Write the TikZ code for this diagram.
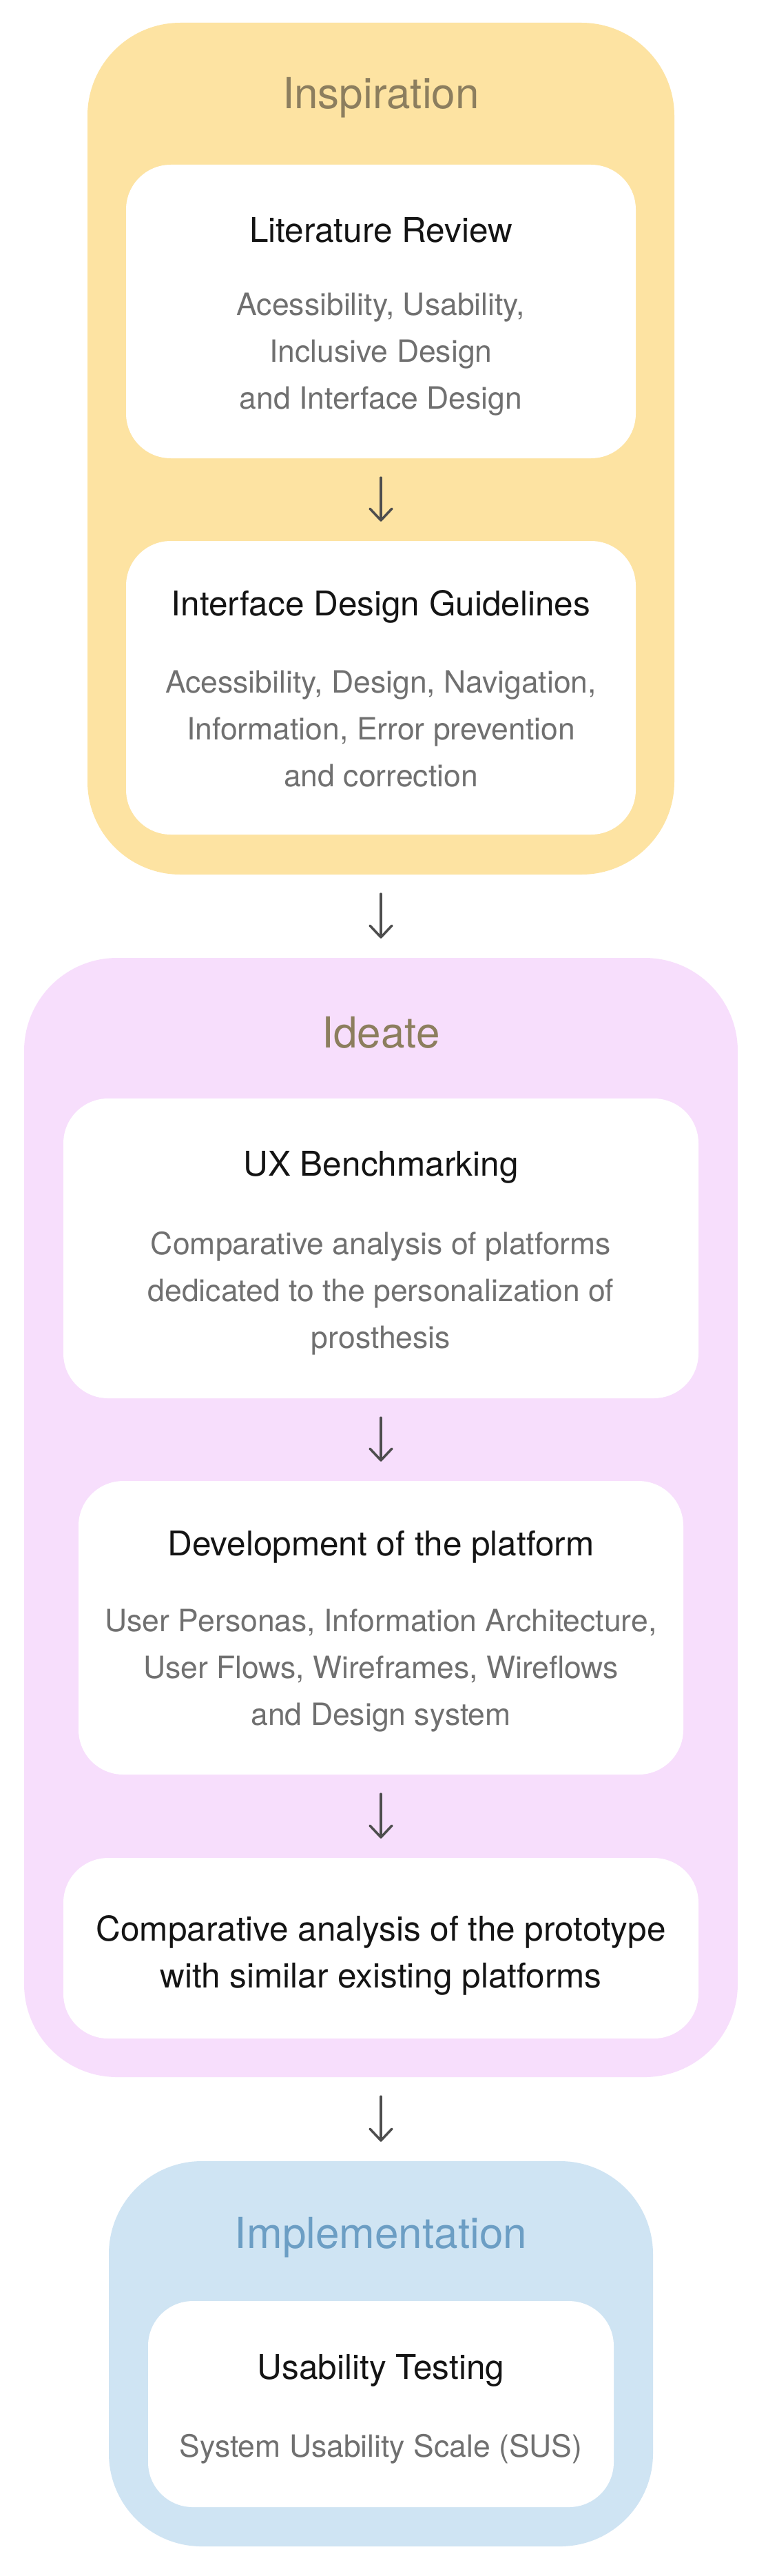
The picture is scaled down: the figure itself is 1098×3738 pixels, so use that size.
\documentclass[tikz,border=0pt]{standalone}
\usepackage{fontspec}
\setmainfont{TeX Gyre Heros}
\usetikzlibrary{arrows.meta}
\definecolor{yellowc}{HTML}{FDE3A2}
\definecolor{pinkc}{HTML}{F7DEFC}
\definecolor{bluec}{HTML}{CFE4F3}
\definecolor{phasebrown}{HTML}{8C7E5E}
\definecolor{phaseblue}{HTML}{6C9EC4}
\definecolor{titleblack}{HTML}{141414}
\definecolor{greytext}{HTML}{707070}
\definecolor{arrowc}{HTML}{4D4D4D}
\begin{document}
\begin{tikzpicture}[x=1pt,y=-1pt,
  panel/.style={rectangle, rounded corners=135pt, inner sep=0pt, draw=none},
  card/.style={rectangle, fill=white, rounded corners=65pt, inner sep=0pt, draw=none},
  phasetitle/.style={font=\fontsize{62}{72}\selectfont, inner sep=0pt},
  cardtitle/.style={font=\fontsize{49.5}{68}\selectfont, text=titleblack, align=center, inner sep=0pt},
  carddesc/.style={font=\fontsize{44.5}{68}\selectfont, text=greytext, align=center, inner sep=0pt},
  flow/.style={draw=arrowc, line width=3.5pt, line cap=round,
    -{Straight Barb[length=17pt,width=32pt,line cap=round,line join=round]},
    shorten <=28pt, shorten >=28pt}]
\useasboundingbox (0,0) rectangle (1098,3738);
\fill[white] (0,0) rectangle (1098,3738);

% Inspiration
\node[panel, fill=yellowc, minimum width=852pt, minimum height=1236pt] (insp) at (553,651) {};
\node[phasetitle, text=phasebrown] (inspt) at (553,142) {Inspiration};
\node[card, minimum width=740pt, minimum height=426pt] (lr) at (553,452) {};
\node[cardtitle] (lrt) at (553,334) {Literature Review};
\node[carddesc] (lrd) at (553,514) {Acessibility, Usability,\\Inclusive Design\\and Interface Design};
\node[card, minimum width=740pt, minimum height=426pt] (idg) at (553,998) {};
\node[cardtitle] (idgt) at (553,880) {Interface Design Guidelines};
\node[carddesc] (idgd) at (553,1058) {Acessibility, Design, Navigation,\\Information, Error prevention\\and correction};

% Ideate
\node[panel, fill=pinkc, minimum width=1036pt, minimum height=1624pt] (idea) at (553,2202) {};
\node[phasetitle, text=phasebrown] (ideat) at (553,1498) {Ideate};
\node[card, minimum width=922pt, minimum height=435pt] (ux) at (553,1811.5) {};
\node[cardtitle] (uxt) at (553,1694) {UX Benchmarking};
\node[carddesc] (uxd) at (553,1877) {Comparative analysis of platforms\\dedicated to the personalization of\\prosthesis};
\node[card, minimum width=878pt, minimum height=426pt] (dev) at (553,2362) {};
\node[cardtitle] (devt) at (553,2245) {Development of the platform};
\node[carddesc] (devd) at (553,2424) {User Personas, Information Architecture,\\User Flows, Wireframes, Wireflows\\and Design system};
\node[card, minimum width=922pt, minimum height=262pt] (comp) at (553,2827) {};
\node[cardtitle] (compt) at (553,2837) {Comparative analysis of the prototype\\with similar existing platforms};

% Implementation
\node[panel, fill=bluec, minimum width=790pt, minimum height=559pt] (impl) at (553,3415.5) {};
\node[phasetitle, text=phaseblue] (implt) at (553,3247) {Implementation};
\node[card, minimum width=676pt, minimum height=299pt] (ut) at (553,3488.5) {};
\node[cardtitle] (utt) at (553,3440) {Usability Testing};
\node[carddesc] (utd) at (553,3554) {System Usability Scale (SUS)};

% connectors
\draw[flow] (lr) -- (idg);
\draw[flow] (insp) -- (idea);
\draw[flow] (ux) -- (dev);
\draw[flow] (dev) -- (comp);
\draw[flow] (idea) -- (impl);
\end{tikzpicture}
\end{document}
